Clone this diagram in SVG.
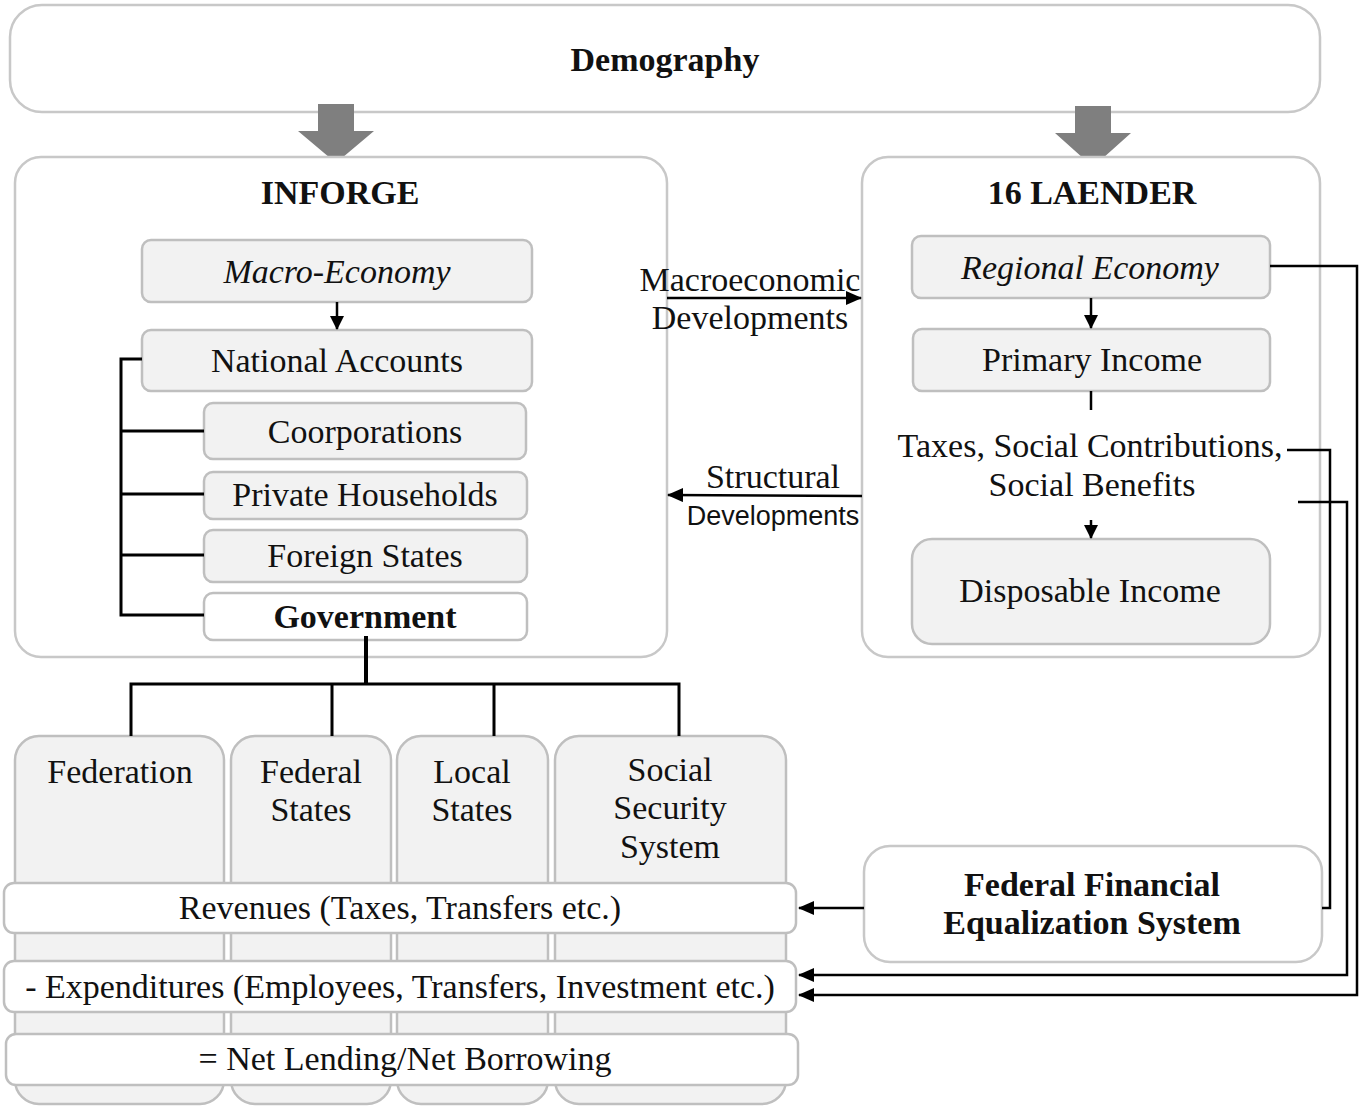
<svg xmlns="http://www.w3.org/2000/svg" width="1359" height="1112" viewBox="0 0 1359 1112">
<defs>
<style>
.box{fill:#ffffff;stroke:#c8c8c8;stroke-width:2.5}
.sub{fill:#f2f2f2;stroke:#bfbfbf;stroke-width:2.5}
.wsub{fill:#ffffff;stroke:#bfbfbf;stroke-width:2.5}
.t{font-family:"Liberation Serif","Times New Roman",serif;font-size:34px;fill:#111;text-anchor:middle}
.b{font-weight:bold}
.i{font-style:italic}
.s{font-family:"Liberation Sans",Arial,sans-serif;font-size:27px;fill:#111;text-anchor:middle}
.ln{fill:none;stroke:#000;stroke-width:2.5}
.big{fill:#7f7f7f}
</style>
<marker id="ah" markerUnits="userSpaceOnUse" markerWidth="16" markerHeight="14" refX="15" refY="7" orient="auto">
<path d="M0,0 L16,7 L0,14 z" fill="#000"/>
</marker>
<marker id="ahs" markerUnits="userSpaceOnUse" markerWidth="14" markerHeight="14" refX="13" refY="7" orient="auto">
<path d="M0,0 L14,7 L0,14 z" fill="#000"/>
</marker>
</defs>

<g id="demography">
<rect class="box" x="10" y="5" width="1310" height="107" rx="32"/>
<text class="t b" x="665" y="71">Demography</text>
</g>

<g id="big-arrows">
<path class="big" d="M318,104 H354 V131 H374 L336,163 L298,131 H318 Z"/>
<path class="big" d="M1075,106 H1111 V133 H1131 L1093,167 L1055,133 H1075 Z"/>
</g>

<g id="inforge">
<rect class="box" x="15" y="157" width="652" height="500" rx="26"/>
<text class="t b" x="340" y="204">INFORGE</text>
</g>
<g id="macro-economy">
<rect class="sub" x="142" y="240" width="390" height="62" rx="9"/>
<text class="t i" x="337" y="283">Macro-Economy</text>
</g>
<g id="national-accounts">
<rect class="sub" x="142" y="330" width="390" height="61" rx="9"/>
<text class="t" x="337" y="372">National Accounts</text>
</g>
<g id="coorporations">
<rect class="sub" x="204" y="403" width="322" height="56" rx="9"/>
<text class="t" x="365" y="443">Coorporations</text>
</g>
<g id="private-households">
<rect class="sub" x="204" y="472" width="323" height="47" rx="9"/>
<text class="t" x="365" y="506">Private Households</text>
</g>
<g id="foreign-states">
<rect class="sub" x="204" y="530" width="323" height="52" rx="9"/>
<text class="t" x="365" y="567">Foreign States</text>
</g>
<g id="government">
<rect class="wsub" x="204" y="593" width="323" height="47" rx="9"/>
<text class="t b" x="365" y="628">Government</text>
</g>

<g id="laender">
<rect class="box" x="862" y="157" width="458" height="500" rx="26"/>
<text class="t b" x="1092" y="204">16 LAENDER</text>
</g>
<g id="regional-economy">
<rect class="sub" x="912" y="236" width="358" height="62" rx="9"/>
<text class="t i" x="1090" y="279">Regional Economy</text>
</g>
<g id="primary-income">
<rect class="sub" x="913" y="329" width="357" height="62" rx="9"/>
<text class="t" x="1092" y="371">Primary Income</text>
</g>
<g id="taxes">
<text class="t" x="1090" y="457">Taxes, Social Contributions,</text>
<text class="t" x="1092" y="496">Social Benefits</text>
</g>
<g id="disposable-income">
<rect class="sub" x="912" y="539" width="358" height="105" rx="20"/>
<text class="t" x="1090" y="602">Disposable Income</text>
</g>

<g id="federation">
<rect class="sub" x="15" y="736" width="209" height="368" rx="24"/>
<text class="t" x="120" y="783">Federation</text>
</g>
<g id="federal-states">
<rect class="sub" x="231" y="736" width="160" height="368" rx="24"/>
<text class="t" x="311" y="783">Federal</text>
<text class="t" x="311" y="821">States</text>
</g>
<g id="local-states">
<rect class="sub" x="397" y="736" width="151" height="368" rx="24"/>
<text class="t" x="472" y="783">Local</text>
<text class="t" x="472" y="821">States</text>
</g>
<g id="social-security">
<rect class="sub" x="555" y="736" width="231" height="368" rx="24"/>
<text class="t" x="670" y="781">Social</text>
<text class="t" x="670" y="819">Security</text>
<text class="t" x="670" y="858">System</text>
</g>
<g id="revenues">
<rect class="wsub" x="4" y="883" width="792" height="50" rx="10"/>
<text class="t" x="400" y="919">Revenues (Taxes, Transfers etc.)</text>
</g>
<g id="expenditures">
<rect class="wsub" x="4" y="961" width="792" height="51" rx="10"/>
<text class="t" x="400" y="998">- Expenditures (Employees, Transfers, Investment etc.)</text>
</g>
<g id="net-lending">
<rect class="wsub" x="6" y="1034" width="792" height="51" rx="10"/>
<text class="t" x="405" y="1070">= Net Lending/Net Borrowing</text>
</g>

<g id="ffes">
<rect class="box" x="864" y="846" width="458" height="116" rx="26"/>
<text class="t b" x="1092" y="896">Federal Financial</text>
<text class="t b" x="1092" y="934">Equalization System</text>
</g>

<g id="connectors">
<line class="ln" x1="337" y1="302" x2="337" y2="329" marker-end="url(#ahs)"/>
<path class="ln" style="stroke-width:3" d="M142,359 H121 V615 H204 M121,431 H204 M121,494 H204 M121,555 H204"/>
<line class="ln" style="stroke-width:4" x1="366" y1="636" x2="366" y2="685"/>
<path class="ln" style="stroke-width:3" d="M131,736 V684 H679 V736 M332,684 V736 M494,684 V736"/>
<line class="ln" x1="1091" y1="298" x2="1091" y2="328" marker-end="url(#ahs)"/>
<line class="ln" x1="1091" y1="391" x2="1091" y2="410"/>
<line class="ln" x1="1091" y1="520" x2="1091" y2="538" marker-end="url(#ahs)"/>
<line class="ln" x1="667" y1="298" x2="861" y2="298" marker-end="url(#ah)"/>
<line class="ln" x1="862" y1="496" x2="668" y2="495" marker-end="url(#ah)"/>
<path class="ln" d="M1270,266 H1357 V995 H799" marker-end="url(#ah)"/>
<path class="ln" d="M1287,450 H1330 V908 H1322"/>
<path class="ln" d="M1298,502 H1347 V975 H799" marker-end="url(#ah)"/>
<line class="ln" x1="864" y1="908" x2="799" y2="908" marker-end="url(#ah)"/>
</g>

<g id="labels">
<text class="t" x="750" y="291">Macroeconomic</text>
<text class="t" x="750" y="329">Developments</text>
<text class="t" x="773" y="488">Structural</text>
<text class="s" x="773" y="525">Developments</text>
</g>
</svg>
